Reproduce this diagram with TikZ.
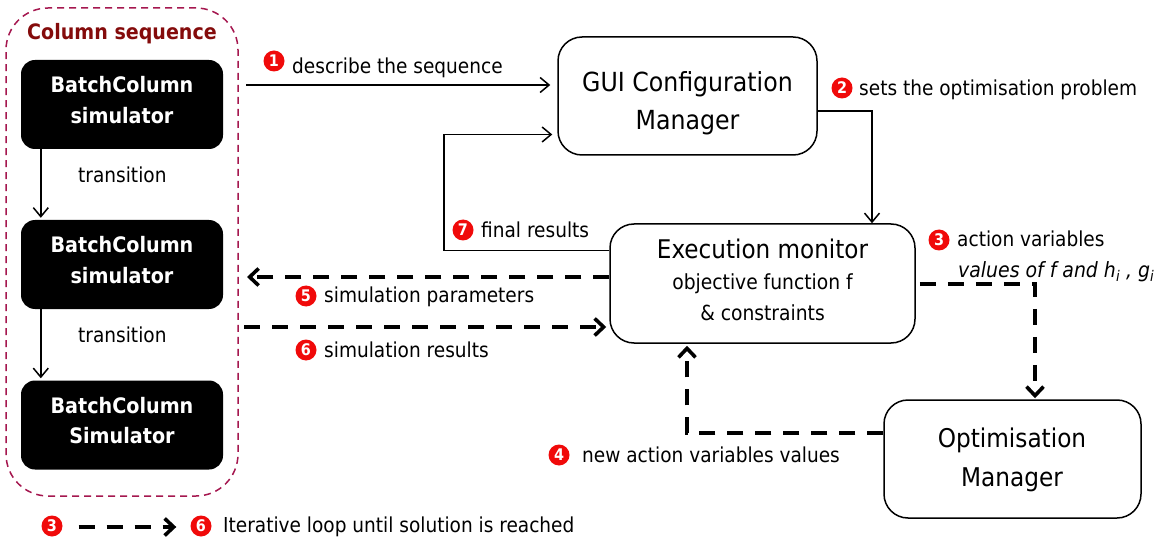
\documentclass[tikz,border=0pt]{standalone}
\usepackage{fontspec}
\setmainfont{DejaVu Sans Condensed}
\usetikzlibrary{arrows.meta,calc}
\definecolor{seqline}{HTML}{A5174F}
\definecolor{seqtitle}{HTML}{840B0B}
\definecolor{numred}{HTML}{F00A0A}
\tikzset{
 sim/.style={fill=black,rounded corners=14,minimum width=202,minimum height=89,inner sep=0},
 simtext/.style={text=white,font=\fontsize{21.3}{30.5}\selectfont\bfseries,align=center,inner sep=0},
 mgr/.style={draw=black,line width=1.5,rounded corners=24,inner sep=0},
 mgrtext/.style={font=\fontsize{25.8}{38.5}\selectfont,align=center,inner sep=0},
 lbl/.style={font=\fontsize{20.6}{24}\selectfont,anchor=west,inner sep=0,text=black},
 num/.style={circle,fill=numred,text=white,font=\fontsize{16}{16}\selectfont\bfseries,minimum size=21,inner sep=0},
 thin arrow/.style={draw=black,line width=1.5,-{Straight Barb[length=9,width=15,line width=1.5]}},
 dash arrow/.style={draw=black,line width=3.6,dash pattern=on 16 off 12,-{Straight Barb[length=9,width=17,line width=3.6]}},
}
\begin{document}
\begin{tikzpicture}[x=1pt,y=-1pt]
\useasboundingbox (0,0) rectangle (1156,537);
\node[draw=seqline,line width=1.5,dash pattern=on 7 off 5,rounded corners=42,minimum width=232,minimum height=488,inner sep=0] (seq) at (122,252) {};
\node[font=\fontsize{21.2}{24}\selectfont\bfseries,text=seqtitle,inner sep=0] (seqt) at (122,33.5) {Column sequence};
\node[sim] (s1) at (122,104.5) {};
\node[simtext] (s1t) at (122,100) {BatchColumn\\simulator};
\node[sim] (s2) at (122,264.5) {};
\node[simtext] (s2t) at (122,260) {BatchColumn\\simulator};
\node[sim] (s3) at (122,425) {};
\node[simtext] (s3t) at (122,420.5) {BatchColumn\\Simulator};
\node[lbl] (t1) at (78,175) {transition};
\node[lbl] (t2) at (78,335) {transition};
\node[mgr,minimum width=259,minimum height=118] (gui) at (687.5,96) {};
\node[mgrtext,font=\fontsize{26.3}{38.5}\selectfont] (guit) at (687.5,103) {GUI Configuration\\Manager};
\node[mgr,minimum width=305,minimum height=119] (ex) at (762.5,283.5) {};
\node[font=\fontsize{25.7}{28}\selectfont,inner sep=0] (ext) at (762.5,248.5) {Execution monitor};
\node[font=\fontsize{20.8}{31}\selectfont,align=center,inner sep=0] (exs) at (762.5,297.5) {objective function f\\\& constraints};
\node[mgr,minimum width=257,minimum height=118] (op) at (1012.5,459) {};
\node[mgrtext] (opt) at (1012,460) {Optimisation\\Manager};
% labels
\node[num] (n1) at (274,61) {1};
\node[lbl] (l1) at (292,68) {describe the sequence};
\node[num] (n2) at (842,88) {2};
\node[lbl] (l2) at (859,89.5) {sets the optimisation problem};
\node[num] (n3) at (939,240) {3};
\node[lbl] (l3) at (957,238.5) {action variables};
\node[lbl,font=\fontsize{21}{24}\selectfont\itshape] (l3b) at (958,271.5) {values of f and h\textsubscript{i} , g\textsubscript{i}};
\node[num] (n4) at (559,455) {4};
\node[lbl] (l4) at (582,454.5) {new action variables values};
\node[num] (n5) at (306,296) {5};
\node[lbl] (l5) at (324,296.5) {simulation parameters};
\node[num] (n6) at (306,350) {6};
\node[lbl] (l6) at (324,349.5) {simulation results};
\node[num] (n7) at (463,230) {7};
\node[lbl] (l7) at (481,229.5) {final results};
\node[num] (k3) at (52,526) {3};
\node[num] (k6) at (201,526) {6};
\node[lbl] (kt) at (223,526.5) {Iterative loop until solution is reached};
% connectors
\coordinate (a1) at (246,85);
\draw[thin arrow] (a1) -- ($(a1 -| gui.west)+(-7,0)$);
\draw[thin arrow] ($(s1.south west)+(20,0)$) -- ($(s2.north west)+(20,-2)$);
\draw[thin arrow] ($(s2.south west)+(20,0)$) -- ($(s3.north west)+(20,-2)$);
\coordinate (g1) at (872,111);
\draw[thin arrow] (gui.east |- g1) -- (g1) -- (g1 |- ex.north);
\coordinate (f1) at (444,250.5);
\coordinate (f2) at (444,134.5);
\draw[thin arrow] (ex.west |- f1) -- (f1) -- (f2) -- ($(f2 -| gui.west)+(-5,0)$);
\coordinate (p1) at (247,277);
\draw[dash arrow] (ex.west |- p1) -- (p1);
\coordinate (r1) at (244,327);
\draw[dash arrow] (r1) -- ($(r1 -| ex.west)+(-3,0)$);
\coordinate (c1) at (1035,284);
\draw[dash arrow] ($(ex.east |- c1)+(4,0)$) -- (c1) -- ($(c1 |- op.north)+(0,-1)$);
\coordinate (d1) at (687,433);
\draw[dash arrow] (op.west |- d1) -- (d1) -- ($(d1 |- ex.south)+(0,2)$);
\draw[dash arrow] ($(k3.east)+(16,1)$) -- ($(k6.west)+(-14,1)$);
\end{tikzpicture}
\end{document}
